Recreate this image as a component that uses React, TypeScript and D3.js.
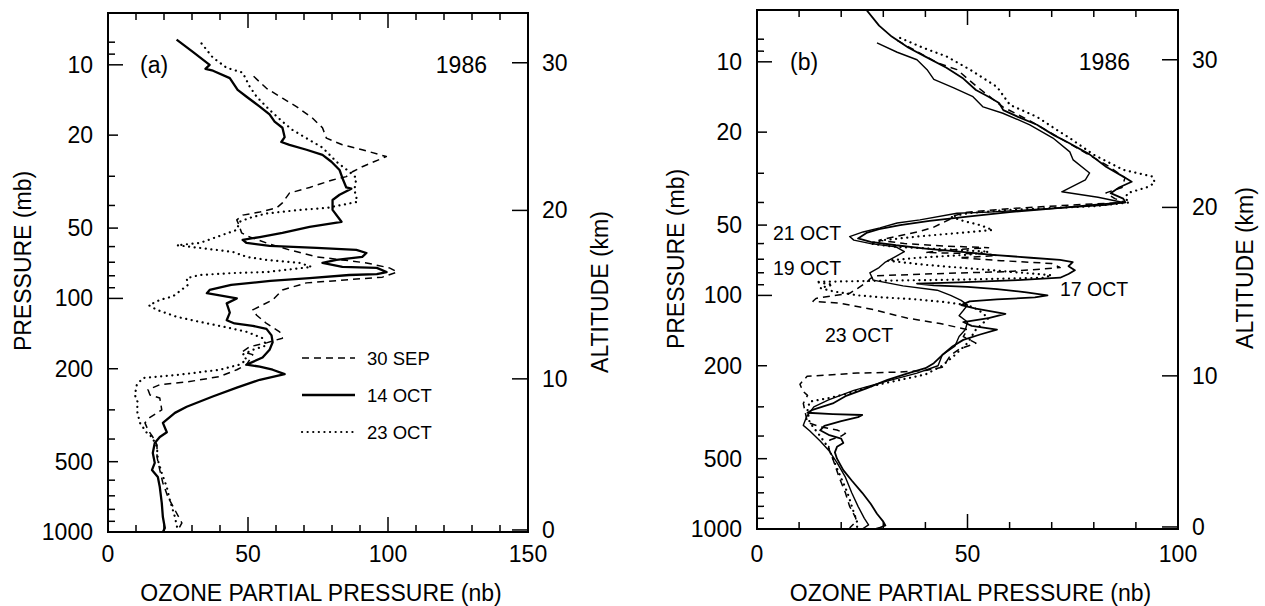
import React from "react";
import * as d3 from "d3";

type Pt = [number, number]; // [pressure (mb), ozone partial pressure (nb)]

const FONT = "'Liberation Sans', Arial, Helvetica, sans-serif";

// ---------- axis definitions ----------
const pressureLabels = [10, 20, 50, 100, 200, 500, 1000];
const pressureMinor = [8, 9, 30, 40, 60, 70, 80, 90, 300, 400, 600, 700, 800, 900];
const altitudeKm = [0, 10, 20, 30];
const altitudePressure = [980, 221, 42, 9.8];
const xLabelsA = [0, 50, 100, 150];
const xLabelsB = [0, 50, 100];

// ---------- panel (a) data ----------
const legendA = ["30 SEP", "14 OCT", "23 OCT"];

const sep30: Pt[] = [
  [11.2, 52], [12.6, 56.6], [13.9, 62.3], [15.1, 67.3], [16.9, 73.0], [18.6, 76.6], [20.6, 78.0],
  [22.0, 83.7], [23.1, 90.8], [24.7, 99.4], [27.3, 90.8], [28.7, 87.3], [30.1, 85.1], [31.1, 80.2],
  [33.5, 72.0], [35.4, 64.8], [39.0, 62.3], [41.0, 60.2], [42.7, 54.2], [44.0, 48.1], [46.1, 46.0],
  [49.4, 47.0], [52.4, 47.7], [54.6, 50.6], [57.9, 56.6], [62.0, 64.8], [66.4, 74.5], [68.4, 83.7],
  [70.5, 92.3], [74.0, 100.5], [77.1, 103.3], [81.1, 98], [85.8, 70.9], [92.0, 62.3], [101.5, 58.8],
  [112, 51.7], [118, 53.1], [128, 56.6], [139, 61.3], [148, 62.3], [155, 56.6], [161, 50.6],
  [169, 48.1], [174, 51.7], [183, 50.6], [192, 49.5], [202, 46.0], [216, 39.9], [228, 28.1],
  [234, 18.5], [246, 14.3], [259, 15.0], [267, 18.5], [300, 19.2], [323, 15.0], [341, 13.2],
  [366, 14.3], [392, 16.0], [424, 17.5], [477, 17.5], [543, 18.5], [617, 19.6], [708, 21.4],
  [805, 23.9], [915, 26.4], [1000, 24.6],
];

const oct14: Pt[] = [
  [7.8, 24.5], [8.8, 30.3], [10.0, 36.3], [10.4, 34.8], [10.6, 37.5], [11.4, 43.5], [12.8, 46.3],
  [13.7, 49.5], [15.1, 54.2], [16.3, 57.7], [17.5, 59.5], [18.6, 62.3], [20.4, 63.1], [21.4, 61.9],
  [22.0, 64.8], [23.1, 70.9], [24.3, 76.6], [26.0, 79.8], [28.2, 82.7], [30.5, 83.7], [33.5, 85.1],
  [33.9, 86.9], [36.0, 82.7], [37.9, 80.2], [41.8, 80.2], [47.0, 83.4], [49.4, 72], [52.4, 62.3],
  [54.6, 54.2], [56.2, 48.1], [57.9, 49.5], [59.6, 57.7], [60.8, 74.5], [62.0, 88.7], [63.9, 92.3],
  [66.4, 90.8], [68.4, 81.6], [70.5, 76.6], [73.3, 83.7], [74.0, 96], [77.1, 99.5], [78.7, 96],
  [79.4, 86.2], [81.9, 72], [84.1, 58], [87.6, 44], [92, 36.3], [95, 35.3], [100, 46.0], [105, 42.4],
  [115, 43.5], [124, 42.4], [128, 45.2], [131, 51.7], [135, 56.6], [144, 58.4], [154, 58.8],
  [166, 57.7], [179, 55.2], [192, 49.5], [196, 54.2], [202, 58.8], [211, 63.1], [223, 54.2],
  [241, 46.0], [263, 37.4], [291, 28.1], [309, 23.9], [341, 19.6], [374, 21.0], [392, 18.5],
  [416, 16.7], [459, 16.0], [506, 16.7], [543, 15.7], [582, 17.8], [642, 18.5], [751, 19.2],
  [863, 19.6], [961, 20.3], [1000, 19.6],
];

const oct23a: Pt[] = [
  [8.1, 33.4], [9.3, 37.4], [10.3, 42.4], [10.8, 48.1], [12.4, 50.6], [13.7, 53.1], [15.6, 57.7],
  [17.5, 62.3], [19.0, 65.9], [21.0, 72.0], [22.6, 76.6], [26.0, 81.6], [28.7, 86.2], [30.5, 88.7],
  [34.3, 88.0], [38.6, 89.1], [41.0, 78.0], [41.8, 68.4], [43.3, 56.6], [45.2, 50.6], [47.0, 47.0],
  [50.9, 46.0], [54.6, 38.8], [57.9, 32.8], [59.2, 24.6], [60.8, 32.8], [63.2, 44.5], [66.4, 49.5],
  [68.4, 56.6], [70.5, 68.4], [73.3, 72.7], [77.1, 56.6], [77.9, 44.5], [79.4, 32.8], [81.9, 28.1],
  [87.6, 28.5], [98, 23.2], [101.5, 18.5], [107, 14.6], [112, 17.5], [120, 24.6], [126, 32.8],
  [133, 42.4], [139, 49.5], [148, 55.2], [159, 56.6], [166, 51.7], [174, 48.1], [183, 49.5],
  [192, 47.0], [202, 39.9], [212, 25.6], [219, 12.5], [234, 10.3], [259, 9.6], [280, 10.7],
  [300, 10.3], [341, 11.4], [377, 13.9], [392, 15.7], [432, 17.5], [492, 17.8], [559, 19.2],
  [642, 21.0], [730, 22.1], [863, 23.9], [980, 24.9],
];

// ---------- panel (b) data ----------
const oct17: Pt[] = [
  [6.0, 26], [7.0, 29], [7.8, 32], [8.7, 36], [9.5, 40], [10.6, 45], [11.8, 49], [13.2, 52],
  [14.1, 55], [15.0, 57.5], [16.1, 58.5], [17.2, 62], [18.6, 66.5], [20.6, 70.5], [22.2, 74],
  [24.9, 79], [28.2, 83], [31.0, 87], [32.6, 89], [34.5, 86], [36.5, 84], [38.5, 87], [40.0, 87.5],
  [41.0, 80], [42.5, 70], [44.0, 60], [46.0, 50], [48.0, 41], [50.0, 34], [52.0, 29], [54.0, 26],
  [57.0, 24], [59.0, 27], [61.0, 33], [63.0, 40], [65.0, 48], [67.0, 56], [69.0, 65], [70.5, 72],
  [72.0, 75], [75.0, 74], [78.0, 75.5], [81.0, 74], [84.0, 72], [86.0, 62], [88.0, 48], [89.0, 38],
  [90.5, 42], [92.0, 50], [94.0, 57], [97.0, 64], [100.0, 69], [102.0, 66], [104.0, 57],
  [106.0, 50.5], [110.0, 48.5], [114.0, 52], [120.0, 59], [125.0, 55], [130.0, 49], [135.0, 51],
  [140.0, 57], [147.0, 53], [155.0, 49], [165.0, 46.5], [180.0, 44], [195.0, 42], [205.0, 40],
  [215.0, 36], [230.0, 31], [250.0, 26], [270.0, 21], [290.0, 18], [310.0, 13], [318.0, 12],
  [322.0, 18], [325.0, 25], [332.0, 24], [345.0, 20], [362.0, 16], [378.0, 15], [395.0, 17],
  [410.0, 20], [428.0, 20.5], [445.0, 19], [470.0, 18.5], [500.0, 19], [560.0, 20.5], [620.0, 22.5],
  [700.0, 25], [780.0, 27], [860.0, 28.5], [930.0, 30], [965.0, 30.5], [990.0, 29], [1000.0, 28],
];

const oct21: Pt[] = [
  [8.3, 28.5], [9.1, 33.3], [9.8, 38], [10.8, 40.4], [11.9, 42], [12.9, 46.6], [14.1, 51.3],
  [15.6, 53.7], [16.6, 58.4], [18.6, 64.8], [21.2, 70.3], [24.3, 74.3], [26.3, 75.1], [29.9, 79],
  [32.0, 78], [36.0, 72.4], [38.0, 81], [40.0, 87], [41.0, 83], [43.0, 65], [44.0, 55], [44.5, 47.5],
  [47.5, 38.7], [49.0, 33.3], [51.4, 29.2], [53.5, 25.2], [56.0, 22], [58.0, 23], [60.0, 27],
  [62.0, 33], [65.0, 35], [68.0, 33], [72.0, 30.5], [76.0, 29], [80.0, 26.8], [86.0, 27.6],
  [91.0, 34.7], [95.0, 42.8], [100.0, 46], [105.0, 48.5], [110.0, 50], [116.0, 49], [122.0, 48],
  [130.0, 50], [140.0, 49.5], [150.0, 48], [165.0, 47], [180.0, 44], [200.0, 43], [215.0, 38],
  [235.0, 30], [255.0, 23], [280.0, 17], [300.0, 13.5], [330.0, 11.8], [360.0, 11], [380.0, 12.5],
  [420.0, 15], [460.0, 17], [520.0, 19], [600.0, 21], [700.0, 22.5], [800.0, 24], [900.0, 25.5],
  [960.0, 26.5], [1000.0, 25],
];

const oct19: Pt[] = [
  [7.9, 34], [8.7, 39.4], [9.5, 45.1], [10.8, 50.6], [12.8, 57], [15.3, 60.1], [17.2, 66.5],
  [19.6, 71.3], [21.2, 74.3], [25, 80], [29, 87], [31, 94], [33, 94.5], [34.5, 92.5], [36.5, 88],
  [38.5, 87.5], [40, 88.5], [41.5, 80], [43, 60], [44.5, 50], [46, 46], [48, 49], [50, 53],
  [52.5, 56], [54, 48], [56, 38], [58, 30], [60, 27], [62, 33], [63.5, 45], [65, 55], [67, 50],
  [69, 38], [71, 31], [74, 40], [77, 52], [80, 63], [82, 70], [84, 68], [85.5, 50], [86.5, 30],
  [87.5, 14], [90, 18], [93, 15], [96, 18], [100, 24], [102, 30], [104, 38], [107, 45], [110, 50],
  [115, 52.5], [125, 55], [140, 52], [160, 50], [180, 47], [200, 44], [218, 40], [232, 33],
  [245, 27], [262, 22], [275, 17], [285, 12.5], [310, 12], [350, 12.5], [400, 15], [450, 17],
  [550, 19], [700, 21.5], [850, 23], [960, 24], [1000, 23.5],
];

const oct23b: Pt[] = [
  [8.1, 33.3], [10.1, 42.8], [10.8, 47.5], [12.8, 52.3], [15.6, 58.4], [18.2, 65.6], [21.6, 72.7],
  [28.2, 83.8], [31.4, 87.4], [34.5, 86.7], [36.4, 82.9], [38.5, 85], [40, 87.4], [41, 75],
  [42.5, 60], [44, 50], [45.5, 47], [47, 46], [51, 42], [53, 39], [56, 33], [58, 29], [60, 35],
  [61.5, 45], [62.5, 55], [64, 45], [65.5, 40], [66.5, 55], [67.5, 57], [69, 48], [71, 58],
  [73, 70], [76, 72], [79, 60], [81, 40], [82.5, 28], [84.5, 27], [88, 26], [93, 24], [98, 22],
  [103, 14], [106, 13.3], [108, 19.7], [115, 27.6], [125, 35.6], [132, 43.5], [140, 50], [150, 49],
  [160, 52], [170, 48], [180, 46], [192, 45], [203, 44], [209, 40.4], [213, 34], [215, 23.8],
  [222, 11.9], [240, 10.2], [257, 10.9], [268, 12], [290, 11], [320, 11.5], [350, 12], [365, 15],
  [377, 19], [390, 21], [400, 20], [416, 17.3], [450, 17], [500, 18], [600, 19.5], [700, 21],
  [800, 22], [900, 23.5], [950, 23], [990, 22],
];

const datesB = ["21 OCT", "19 OCT", "17 OCT", "23 OCT"];

// ---------- styles ----------
type LineStyle = { width: number; dash?: string; cap?: "round" | "butt" };
const SOLID_BOLD: LineStyle = { width: 2.3 };
const SOLID: LineStyle = { width: 1.8 };
const SOLID_THIN: LineStyle = { width: 1.4 };
const DASHED: LineStyle = { width: 1.5, dash: "7,5" };
const DOTTED: LineStyle = { width: 2.2, dash: "0.1,5.5", cap: "round" };

type Series = { data: Pt[]; style: LineStyle };

type PanelProps = {
  id: string;
  left: number;
  right: number;
  top: number;
  bottom: number;
  xMax: number;
  xLabels: number[];
  series: Series[];
  tag: string;
  tagX: number;
  yearX: number;
  yTitleX: number;
  yTitleY: number;
  altTitleX: number;
  altTitleY: number;
  children?: React.ReactNode;
};

function Panel(p: PanelProps) {
  const x = d3.scaleLinear().domain([0, p.xMax]).range([p.left, p.right]);
  const y = d3.scaleLog().domain([1000, 6]).range([p.bottom, p.top]);
  const line = d3
    .line<Pt>()
    .x((d) => x(d[1]))
    .y((d) => y(d[0]));
  const xTicks = d3.range(0, p.xMax + 0.001, 10);
  const fs = 23;
  const pLen = (v: number) => (v === 10 || v === 100 || v === 1000 ? 15 : 10);
  return (
    <g>
      <defs>
        <clipPath id={`clip-${p.id}`}>
          <rect x={p.left} y={p.top} width={p.right - p.left} height={p.bottom - p.top} />
        </clipPath>
      </defs>
      <g clipPath={`url(#clip-${p.id})`}>
        {p.series.map((s, i) => (
          <path
            key={i}
            d={line(s.data) || ""}
            fill="none"
            stroke="#000"
            strokeWidth={s.style.width}
            strokeDasharray={s.style.dash}
            strokeLinecap={s.style.cap || "butt"}
            strokeLinejoin="round"
          />
        ))}
      </g>
      <rect
        x={p.left}
        y={p.top}
        width={p.right - p.left}
        height={p.bottom - p.top}
        fill="none"
        stroke="#000"
        strokeWidth={2}
      />
      {xTicks.map((v) => {
        const len = v % 50 === 0 ? 15 : 7;
        return (
          <g key={`xt${v}`}>
            <line x1={x(v)} x2={x(v)} y1={p.bottom} y2={p.bottom - len} stroke="#000" strokeWidth={1.5} />
            <line x1={x(v)} x2={x(v)} y1={p.top} y2={p.top + len} stroke="#000" strokeWidth={1.5} />
          </g>
        );
      })}
      {p.xLabels.map((v) => (
        <text key={`xl${v}`} x={x(v)} y={562} fontSize={fs} textAnchor="middle" fontFamily={FONT}>
          {v}
        </text>
      ))}
      {pressureLabels.map((v) => (
        <g key={`pl${v}`}>
          <line x1={p.left} x2={p.left + pLen(v)} y1={y(v)} y2={y(v)} stroke="#000" strokeWidth={1.5} />
          <text x={p.left - 15} y={y(v) + 8} fontSize={fs} textAnchor="end" fontFamily={FONT}>
            {v}
          </text>
        </g>
      ))}
      {pressureMinor.map((v) => (
        <line key={`pm${v}`} x1={p.left} x2={p.left + 7} y1={y(v)} y2={y(v)} stroke="#000" strokeWidth={1.5} />
      ))}
      {altitudeKm.map((km, i) => (
        <g key={`al${km}`}>
          <line
            x1={p.right}
            x2={p.right - 16}
            y1={y(altitudePressure[i])}
            y2={y(altitudePressure[i])}
            stroke="#000"
            strokeWidth={1.5}
          />
          <text x={p.right + 14} y={y(altitudePressure[i]) + 8} fontSize={fs} fontFamily={FONT}>
            {km}
          </text>
        </g>
      ))}
      <text x={(p.left + p.right) / 2 + 3} y={601} fontSize={fs} textAnchor="middle" fontFamily={FONT}>
        OZONE PARTIAL PRESSURE (nb)
      </text>
      <text
        transform={`translate(${p.yTitleX},${p.yTitleY}) rotate(-90)`}
        fontSize={fs}
        textAnchor="middle"
        dy="0.36em"
        fontFamily={FONT}
      >
        PRESSURE (mb)
      </text>
      <text
        transform={`translate(${p.altTitleX},${p.altTitleY}) rotate(-90)`}
        fontSize={fs}
        textAnchor="middle"
        dy="0.36em"
        fontFamily={FONT}
      >
        ALTITUDE (km)
      </text>
      <text x={p.tagX} y={y(10) + 8} fontSize={fs} fontFamily={FONT}>
        {p.tag}
      </text>
      <text x={p.yearX} y={y(10) + 8} fontSize={fs} textAnchor="end" fontFamily={FONT}>
        1986
      </text>
      {p.children}
    </g>
  );
}

export default function App() {
  const legendStyles = [DASHED, SOLID_BOLD, DOTTED];
  const legendY = [358, 395, 432];
  const dateLabelX = [773, 773, 1060, 825];
  const dateLabelY = [233, 268, 289, 335];
  return (
    <svg
      width={1265}
      height={606}
      viewBox="0 0 1265 606"
      style={{ position: "absolute", left: 0, top: 0, background: "#fff" }}
    >
      <rect x={0} y={0} width={1265} height={606} fill="#fff" />
      <Panel
        id="a"
        left={108}
        right={528}
        top={13}
        bottom={532}
        xMax={150}
        xLabels={xLabelsA}
        series={[
          { data: sep30, style: DASHED },
          { data: oct14, style: SOLID_BOLD },
          { data: oct23a, style: DOTTED },
        ]}
        tag="(a)"
        tagX={140}
        yearX={487}
        yTitleX={23}
        yTitleY={261}
        altTitleX={600}
        altTitleY={292}
      >
        <g>
          {legendA.map((name, i) => (
            <g key={name}>
              <line
                x1={302}
                x2={355}
                y1={legendY[i]}
                y2={legendY[i]}
                stroke="#000"
                strokeWidth={legendStyles[i].width}
                strokeDasharray={legendStyles[i].dash}
                strokeLinecap={legendStyles[i].cap || "butt"}
              />
              <text x={367} y={legendY[i] + 6.7} fontSize={18.5} fontFamily={FONT}>
                {name}
              </text>
            </g>
          ))}
        </g>
      </Panel>
      <Panel
        id="b"
        left={757}
        right={1178}
        top={10}
        bottom={529}
        xMax={100}
        xLabels={xLabelsB}
        series={[
          { data: oct17, style: SOLID },
          { data: oct21, style: SOLID_THIN },
          { data: oct19, style: DOTTED },
          { data: oct23b, style: DASHED },
        ]}
        tag="(b)"
        tagX={790}
        yearX={1130}
        yTitleX={676}
        yTitleY={259}
        altTitleX={1245}
        altTitleY={268}
      >
        <g>
          {datesB.map((d, i) => (
            <text key={d} x={dateLabelX[i]} y={dateLabelY[i] + 7} fontSize={19.5} fontFamily={FONT}>
              {d}
            </text>
          ))}
        </g>
      </Panel>
    </svg>
  );
}
